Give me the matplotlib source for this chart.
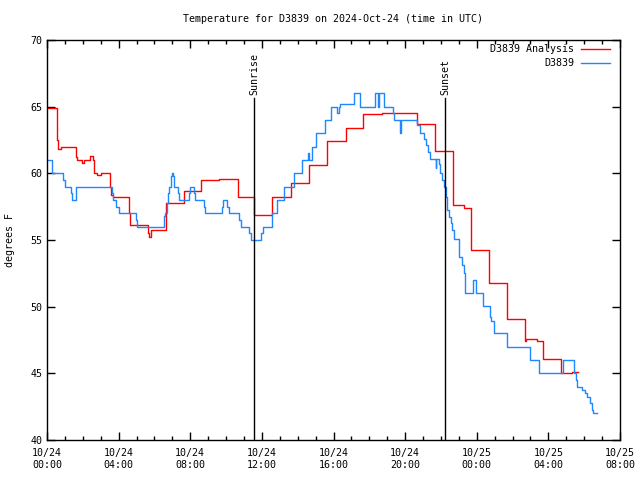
import datetime as dt
import matplotlib
matplotlib.use('Agg')
import matplotlib.pyplot as plt
import matplotlib.dates as mdates

plt.rcParams['font.family'] = 'DejaVu Sans Mono'
plt.rcParams['font.size'] = 7.2

#### DATA (hours after 2024-10-24 00:00 UTC, degrees F)
base = dt.datetime(2024, 10, 24)

analysis_hours = [0.0, 0.55, 0.58, 0.62, 0.8, 1.6, 1.7, 1.98, 2.08, 2.4, 2.58, 2.65, 2.8, 3.0,
                  3.52, 3.6, 3.66, 4.56, 4.62, 5.62, 5.7, 5.8, 6.65, 7.65, 8.6, 9.62, 10.68,
                  11.58, 12.58, 13.61, 14.63, 15.65, 16.7, 17.67, 18.69, 20.65, 21.67, 22.65,
                  23.31, 23.68, 24.67, 25.67, 26.69, 26.75, 27.35, 27.68, 28.69, 29.3, 29.67]
analysis_temps = [64.9, 64.0, 62.5, 61.8, 62.0, 61.2, 61.0, 60.8, 61.0, 61.3, 61.0, 60.0, 59.85, 60.0,
                  59.0, 58.4, 58.2, 57.0, 56.1, 55.5, 55.2, 55.75, 57.75, 58.7, 59.5, 59.6, 58.2,
                  56.9, 58.2, 59.25, 60.6, 62.4, 63.4, 64.45, 64.5, 63.7, 61.7, 57.6,
                  57.4, 54.25, 51.8, 49.1, 47.4, 47.55, 47.4, 46.1, 45.05, 45.1, 45.1]

obs_hours = [0.0, 0.27, 0.92, 1.0, 1.33, 1.38, 1.6, 3.62, 3.7, 3.85, 4.02, 4.97, 5.0,
             6.52, 6.6, 6.68, 6.76, 6.84, 6.9, 6.98, 7.03, 7.08, 7.3, 7.38, 7.93, 8.0, 8.2, 8.25,
             8.75, 8.8, 9.78, 9.85, 10.05, 10.15, 10.75, 10.85, 11.3, 11.38, 11.95, 12.05,
             12.55, 12.85, 13.22, 13.8, 14.25, 14.6, 14.65, 14.82, 15.05, 15.5, 15.88, 16.22,
             16.3, 16.36, 17.15, 17.47, 18.34, 18.46, 18.55, 18.8, 19.3, 19.4, 19.73, 19.78,
             20.68, 20.83, 21.05, 21.17, 21.26, 21.39, 21.7, 21.75, 21.89, 21.95, 22.04, 22.17,
             22.26, 22.36, 22.47, 22.56, 22.64, 22.75, 23.0, 23.16, 23.29, 23.34, 23.78, 23.95,
             24.35, 24.72, 24.82, 24.95, 25.69, 26.95, 27.47, 28.83, 29.45, 29.55, 29.62, 29.9,
             30.05, 30.15, 30.3, 30.45, 30.5, 30.73]
obs_temps = [61.0, 60.0, 59.5, 59.0, 58.5, 58.0, 59.0, 58.5, 58.0, 57.5, 57.0, 56.5, 56.0,
             56.8, 57.0, 57.8, 58.5, 59.0, 59.8, 60.0, 59.8, 59.0, 58.5, 58.0, 58.5, 59.0, 58.5, 58.0,
             57.5, 57.0, 57.5, 58.0, 57.5, 57.0, 56.5, 56.0, 55.5, 55.0, 55.5, 56.0,
             57.0, 58.0, 59.0, 60.0, 61.0, 61.5, 61.0, 62.0, 63.0, 64.0, 65.0, 64.5,
             65.0, 65.2, 66.0, 65.0, 66.0, 65.0, 66.0, 65.0, 64.5, 64.0, 63.0, 64.0,
             63.6, 63.0, 62.6, 62.1, 61.6, 61.05, 60.4, 61.05, 60.7, 60.0, 59.5, 59.0,
             58.25, 57.25, 56.75, 56.25, 55.75, 55.1, 53.75, 53.1, 52.5, 51.0, 52.0, 51.0,
             50.05, 49.25, 48.9, 48.0, 47.0, 46.0, 45.0, 46.0, 45.0, 44.5, 44.0, 43.75,
             43.5, 43.25, 42.75, 42.25, 42.0, 42.0]

sun_events = ['Sunrise', 'Sunset']
sun_hours = [11.57, 22.23]

x_start, x_end = 0, 32
y_min, y_max = 40, 70

def to_time(hours):
    return [base + dt.timedelta(hours=h) for h in hours]

#### PLOT
fig = plt.figure(figsize=(6.4, 4.8), dpi=100)
ax = fig.add_axes([47 / 640, 40 / 480, 573 / 640, 400 / 480])

ax.plot(to_time(analysis_hours), analysis_temps, color='#ff0000', lw=1.0, drawstyle='steps-post')
ax.plot(to_time(obs_hours), obs_temps, color='#1e88ff', lw=1.0, drawstyle='steps-post')

for name, h in zip(sun_events, sun_hours):
    t = base + dt.timedelta(hours=h)
    ax.plot([t, t], [y_min, 65.65], color='black', lw=1.0)
    ax.text(t, 65.85, name, rotation=90, ha='center', va='bottom')

ax.set_xlim(base + dt.timedelta(hours=x_start), base + dt.timedelta(hours=x_end))
ax.set_ylim(y_min, y_max)
ax.xaxis.set_major_locator(mdates.HourLocator(byhour=range(0, 24, 4)))
ax.xaxis.set_minor_locator(mdates.HourLocator())
ax.xaxis.set_major_formatter(mdates.DateFormatter('%m/%d\n%H:%M'))
ax.set_yticks(range(y_min, y_max + 1, 5))
ax.tick_params(which='both', direction='in', top=True, right=True, width=1.0, labelsize=7.2)
ax.tick_params(which='major', length=6)
ax.tick_params(which='minor', length=3)
ax.tick_params(axis='x', pad=6)
for s in ax.spines.values():
    s.set_linewidth(1.0)

# legend drawn gnuplot style: text right-aligned, sample line after it
ax.text(0.92, 0.9775, 'D3839 Analysis', transform=ax.transAxes, ha='right', va='center')
ax.plot([0.932, 0.983], [0.9775, 0.9775], transform=ax.transAxes, color='#ff0000', lw=1.0)
ax.text(0.92, 0.9425, 'D3839', transform=ax.transAxes, ha='right', va='center')
ax.plot([0.932, 0.983], [0.9425, 0.9425], transform=ax.transAxes, color='#1e88ff', lw=1.0)

fig.text(333 / 640, 1 - 19 / 480, 'Temperature for D3839 on 2024-Oct-24 (time in UTC)',
         ha='center', va='center')
fig.text(10 / 640, 0.5, 'degrees F', rotation=90, ha='center', va='center')

fig.savefig('out.png', dpi=100)
